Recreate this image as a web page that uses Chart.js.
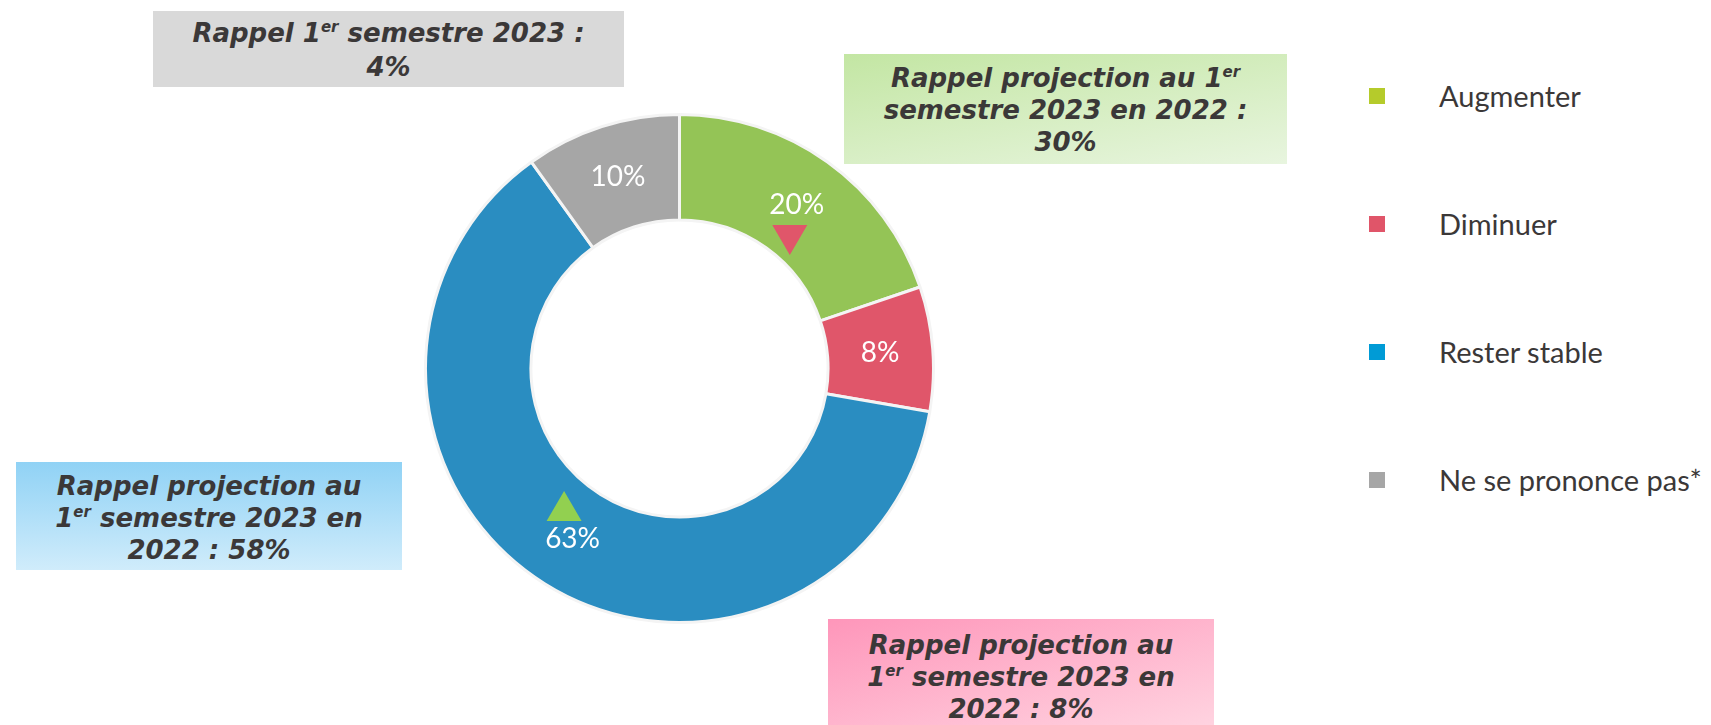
<!DOCTYPE html>
<html>
<head>
<meta charset="utf-8">
<script src="https://cdn.jsdelivr.net/npm/chart.js@4.4.0/dist/chart.umd.min.js"></script>
<style>
  body { margin: 0; background: #fff; }
  #page { position: relative; width: 1711px; height: 725px; overflow: hidden; }
  #chartBox { position: absolute; left: 424px; top: 113px; width: 511px; height: 511px; }
  .note {
    position: absolute; box-sizing: border-box; text-align: center;
    font-family: "DejaVu Sans", sans-serif; font-weight: bold; font-style: italic;
    font-size: 26px; line-height: 32px; color: #3b3838;
  }
  .note sup { font-size: 15px; line-height: 0; vertical-align: 10px; }
  #noteGray { left: 153px; top: 11px; width: 471px; height: 76px; padding-top: 5px; line-height: 34px; background: #d9d9d9; }
  #noteGreen { left: 844px; top: 54px; width: 443px; height: 110px; padding-top: 8px; background: linear-gradient(170deg, #c3e6a3 0%, #e8f5df 100%); }
  #noteBlue { left: 16px; top: 462px; width: 386px; height: 108px; padding-top: 8px; background: linear-gradient(180deg, #90d2f5 0%, #d0ecfb 100%); }
  #notePink { left: 828px; top: 619px; width: 386px; height: 106px; padding-top: 10px; background: linear-gradient(165deg, #fe96ba 0%, #ffd3e0 100%); }
  .legend-item { position: absolute; left: 1369px; height: 16px; }
  .legend-item .sw { position: absolute; left: 0; top: 0; width: 16px; height: 16px; }
  .legend-item .tx { position: absolute; left: 70px; top: -16px; line-height: 48px; white-space: nowrap;
    font-family: Lato, "Open Sans", sans-serif; font-size: 29px; color: #3b3838; }
</style>
</head>
<body>
<div id="page">
  <div id="chartBox"><canvas id="donut"></canvas></div>

  <div class="note" id="noteGray">Rappel 1<sup>er</sup> semestre 2023 :<br><span class="rv"></span></div>
  <div class="note" id="noteGreen">Rappel projection au 1<sup>er</sup><br>semestre 2023 en 2022 :<br><span class="rv"></span></div>
  <div class="note" id="noteBlue">Rappel projection au<br>1<sup>er</sup> semestre 2023 en<br>2022 : <span class="rv"></span></div>
  <div class="note" id="notePink">Rappel projection au<br>1<sup>er</sup> semestre 2023 en<br>2022 : <span class="rv"></span></div>

  <div id="legend"></div>
</div>

<script>
const categories = ['Augmenter', 'Diminuer', 'Rester stable', 'Ne se prononce pas*'];
const values = [20, 8, 63, 10];
const sliceColors = ['#94c456', '#e0566a', '#2a8dc1', '#a6a6a6'];
const legendColors = ['#b5cb2b', '#e05569', '#009bd6', '#a6a6a6'];
// evolution vs. previous projection, shown as small arrows in the slices
const trends = ['down', null, 'up', null];
const trendColors = { down: '#e0566a', up: '#92d050' };
// recall values for the boxes: gray, green, blue, pink
const recallValues = [4, 30, 58, 8];

document.querySelectorAll('.note .rv').forEach((el, i) => {
  el.textContent = recallValues[i] + '%';
});

const legendEl = document.getElementById('legend');
categories.forEach((label, i) => {
  const item = document.createElement('div');
  item.className = 'legend-item';
  item.style.top = (88 + i * 128) + 'px';
  item.innerHTML = '<div class="sw" style="background:' + legendColors[i] + '"></div><div class="tx">' + label + '</div>';
  legendEl.appendChild(item);
});

const sliceLabels = {
  id: 'sliceLabels',
  afterDatasetsDraw(chart) {
    const ctx = chart.ctx;
    const meta = chart.getDatasetMeta(0);
    ctx.save();
    ctx.font = '28px Lato, "Open Sans", sans-serif';
    ctx.fillStyle = '#ffffff';
    ctx.textAlign = 'center';
    ctx.textBaseline = 'middle';
    meta.data.forEach((arc, i) => {
      const p = arc.tooltipPosition();
      ctx.fillText(values[i] + '%', p.x, p.y);

      const trend = trends[i];
      if (!trend) return;
      ctx.fillStyle = trendColors[trend];
      ctx.beginPath();
      if (trend === 'down') {
        const cx = p.x - 7;
        ctx.moveTo(cx - 17.5, p.y + 20);
        ctx.lineTo(cx + 17.5, p.y + 20);
        ctx.lineTo(cx, p.y + 50);
      } else {
        const cx = p.x - 8.5;
        ctx.moveTo(cx - 17.5, p.y - 18);
        ctx.lineTo(cx + 17.5, p.y - 18);
        ctx.lineTo(cx, p.y - 48);
      }
      ctx.closePath();
      ctx.fill();
      ctx.fillStyle = '#ffffff';
    });
    ctx.restore();
  }
};

const donutCtx = document.getElementById('donut').getContext('2d');
const donutChart = new Chart(donutCtx, {
  type: 'doughnut',
  data: {
    labels: categories,
    datasets: [{
      data: values,
      backgroundColor: sliceColors,
      borderColor: '#f4f4f4',
      borderWidth: 3
    }]
  },
  options: {
    responsive: true,
    maintainAspectRatio: false,
    animation: false,
    cutout: '58.5%',
    layout: { padding: 0 },
    plugins: {
      legend: { display: false },
      tooltip: { enabled: false }
    }
  },
  plugins: [sliceLabels]
});
</script>
</body>
</html>
